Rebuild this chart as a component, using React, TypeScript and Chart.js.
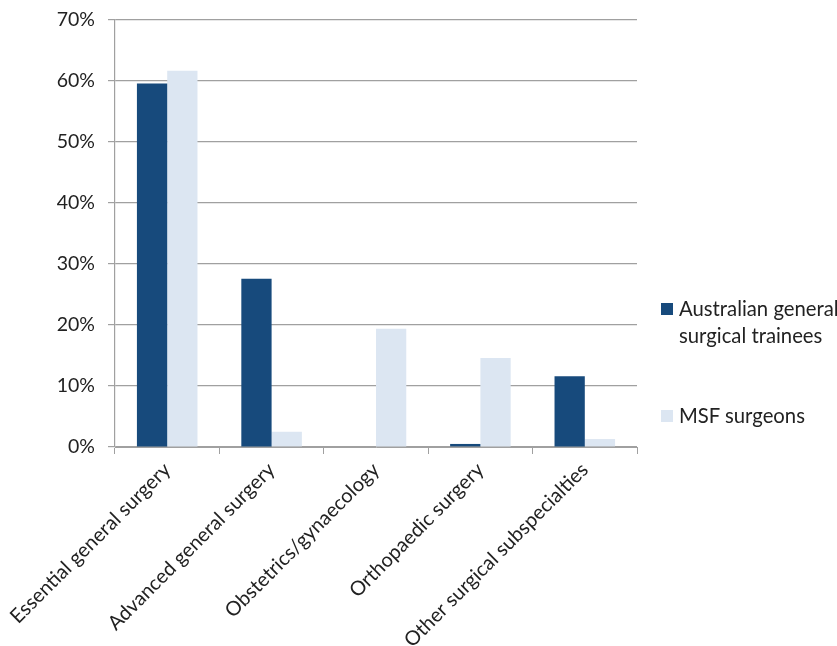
import React, { useEffect, useRef } from "react";
import { Chart, registerables } from "chart.js";

Chart.register(...registerables);

const categories = [
  "Essential general surgery",
  "Advanced general surgery",
  "Obstetrics/gynaecology",
  "Orthopaedic surgery",
  "Other surgical subspecialties",
];
const seriesNames = ["Australian general surgical trainees", "MSF surgeons"];
const legendLines = [["Australian general", "surgical trainees"], ["MSF surgeons"]];
const australianTrainees = [0.596, 0.276, 0, 0.005, 0.116];
const msfSurgeons = [0.617, 0.025, 0.194, 0.146, 0.013];
const yTicks = [0, 0.1, 0.2, 0.3, 0.4, 0.5, 0.6, 0.7];

const DARK = "#174A7C";
const LIGHT = "#DCE6F2";
const GRID = "#A0A0A0";
const FONT = "Lato, 'Liberation Sans', sans-serif";

export default function App() {
  const ref = useRef<HTMLCanvasElement | null>(null);

  useEffect(() => {
    document.body.style.margin = "0";
    const canvas = ref.current;
    if (!canvas) return;
    const chart = new Chart(canvas, {
      type: "bar",
      data: {
        labels: categories,
        datasets: [
          {
            label: seriesNames[0],
            data: australianTrainees,
            backgroundColor: DARK,
            categoryPercentage: 0.58,
            barPercentage: 1,
          },
          {
            label: seriesNames[1],
            data: msfSurgeons,
            backgroundColor: LIGHT,
            categoryPercentage: 0.58,
            barPercentage: 1,
          },
        ],
      },
      options: {
        animation: false,
        responsive: false,
        maintainAspectRatio: false,
        layout: { padding: { top: 20, right: 200, left: 0, bottom: 0 } },
        plugins: {
          legend: { display: false },
          tooltip: { enabled: false },
        },
        scales: {
          x: {
            grid: {
              offset: true,
              drawOnChartArea: false,
              drawTicks: true,
              tickLength: 7,
              color: GRID,
            },
            border: { color: GRID, width: 1 },
            ticks: {
              maxRotation: 45,
              minRotation: 45,
              autoSkip: false,
              padding: 4,
              color: "#222",
              font: { family: FONT, size: 20 },
            },
            afterFit: (scale: any) => {
              scale.height = 199;
              scale.paddingLeft = 0;
              scale.paddingRight = 0;
            },
          },
          y: {
            min: 0,
            max: 0.7,
            afterBuildTicks: (scale: any) => {
              scale.ticks = yTicks.map((v) => ({ value: v }));
            },
            grid: { color: GRID, tickLength: 7, lineWidth: 1.2 },
            border: { color: GRID, width: 1.2 },
            ticks: {
              padding: 13,
              color: "#222",
              font: { family: FONT, size: 19.5 },
              callback: (v: any) => Math.round(Number(v) * 100) + "%",
            },
            afterFit: (scale: any) => {
              scale.width = 115;
              scale.paddingTop = 0;
              scale.paddingBottom = 0;
            },
          },
        },
      },
    });
    return () => chart.destroy();
  }, []);

  const colors = [DARK, LIGHT];
  const legendTops = [295, 402];

  return (
    <div style={{ position: "relative", width: 837, height: 646, overflow: "hidden", background: "#fff" }}>
      <canvas ref={ref} width={837} height={646} style={{ display: "block" }} />
      {legendLines.map((lines, i) => (
        <div
          key={i}
          style={{
            position: "absolute",
            left: 661,
            top: legendTops[i],
            display: "flex",
            alignItems: "flex-start",
            fontFamily: FONT,
            fontSize: 20.3,
            lineHeight: "27px",
            color: "#222",
          }}
        >
          <span
            style={{
              display: "inline-block",
              width: 12,
              height: 12,
              background: colors[i],
              marginTop: 8,
              marginRight: 6,
              flex: "none",
            }}
          />
          <span style={{ whiteSpace: "nowrap" }}>
            {lines.map((l, j) => (
              <div key={j}>{l}</div>
            ))}
          </span>
        </div>
      ))}
    </div>
  );
}
